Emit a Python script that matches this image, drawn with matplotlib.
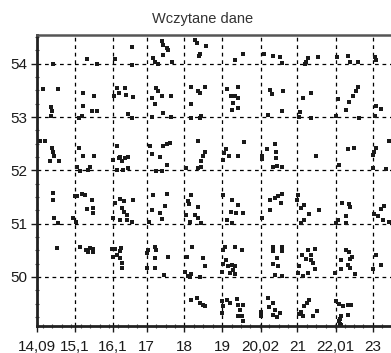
import numpy as np
import matplotlib
matplotlib.use("Agg")
from matplotlib import pyplot as plt
from matplotlib.ticker import MultipleLocator

plt.rcParams['font.family'] = ['Liberation Sans', 'DejaVu Sans']

# punkty (dlugosc, szerokosc), po pasach szerokosci
lon_54 = [15.42, 14.52, 15.67, 16.16, 16.60, 16.60, 17.40, 17.44, 17.53, 17.57, 17.44, 17.18,
          17.22, 17.66, 17.30, 18.29, 18.34, 18.58, 18.41, 18.38, 19.56, 19.34, 20.10, 20.36,
          20.53, 20.60, 21.29, 21.23, 21.20, 21.55, 22.04, 22.35, 22.39, 22.61, 23.06, 23.08]
lat_54 = [54.09, 53.99, 53.99, 54.09, 54.31, 53.98, 54.42, 54.36, 54.29, 54.26, 54.17, 54.11,
          54.04, 54.04, 53.99, 54.45, 54.39, 54.34, 54.19, 54.14, 54.18, 54.08, 54.18, 54.15,
          54.12, 54.02, 54.11, 54.04, 54.00, 54.13, 54.13, 54.14, 54.04, 54.04, 54.13, 54.08]

lon_53 = [14.24, 14.65, 15.32, 15.61, 14.45, 14.49, 14.47, 15.32, 15.54, 15.67, 15.28, 15.21,
          16.20, 16.42, 16.14, 16.27, 16.45, 16.63, 16.50, 16.60,
          17.26, 17.31, 17.40, 17.13, 17.64, 17.22, 17.13, 17.42, 17.64,
          18.18, 18.36, 18.41, 18.54, 18.17, 18.18, 18.41, 18.45,
          19.12, 19.43, 19.24, 19.43, 19.33, 19.30, 19.27, 19.43,
          20.27, 20.32, 20.62, 20.23, 20.58,
          21.36, 21.15, 21.07, 21.05, 21.36,
          22.60, 22.55, 22.46, 22.37, 22.29, 22.07, 22.02, 22.64,
          23.08, 23.21, 23.06]
lat_53 = [53.53, 53.53, 53.45, 53.39, 53.19, 53.12, 53.02, 53.20, 53.11, 53.12, 53.02, 52.98,
          53.54, 53.54, 53.39, 53.45, 53.42, 53.38, 53.06, 52.98,
          53.54, 53.48, 53.39, 53.36, 53.39, 53.25, 53.01, 53.08, 53.01,
          53.56, 53.48, 53.45, 53.56, 53.25, 52.98, 52.98, 53.02,
          53.53, 53.56, 53.40, 53.36, 53.40, 53.27, 53.14, 53.17,
          53.51, 53.44, 53.48, 53.04, 53.12,
          53.46, 53.36, 53.09, 53.00, 52.98,
          53.57, 53.48, 53.39, 53.29, 53.14, 53.34, 53.02, 52.98,
          53.20, 53.15, 53.02]

lon_52 = [14.17, 14.31, 14.49, 14.51, 14.54, 14.43, 14.68, 15.21, 15.30, 15.60, 15.14, 15.50,
          15.45, 15.23,
          16.22, 16.10, 16.27, 16.20, 16.29, 16.42, 16.34, 16.51, 16.36, 16.50,
          17.09, 17.13, 17.44, 17.53, 17.62, 17.35, 17.53, 17.26, 17.40,
          18.36, 18.55, 18.49, 18.45, 18.43, 18.36, 18.05,
          19.59, 19.10, 19.06, 19.03, 19.18, 19.41,
          20.18, 20.40, 20.05, 20.07, 20.42, 20.42, 20.36, 20.45, 20.60,
          21.49, 22.33, 22.51, 23.08, 23.04, 23.00, 23.42, 22.11, 23.00, 23.35]
lat_52 = [52.56, 52.56, 52.42, 52.34, 52.27, 52.18, 52.18, 52.42, 52.27, 52.27, 52.06, 52.07,
          52.01, 51.98,
          52.45, 52.20, 52.23, 52.00, 52.26, 52.23, 52.17, 52.26, 52.01, 52.04,
          52.45, 52.31, 52.45, 52.50, 52.51, 52.26, 52.11, 51.98, 51.98,
          52.56, 52.34, 52.27, 52.17, 52.07, 52.04, 52.04,
          52.54, 52.40, 52.32, 52.20, 52.27, 52.27,
          52.40, 52.50, 52.27, 52.21, 52.34, 52.23, 52.07, 52.09, 52.07,
          52.27, 52.40, 52.42, 52.42, 52.34, 52.29, 52.56, 52.11, 52.04, 52.02]

lon_51 = [14.52, 14.52, 14.54, 14.65, 15.10, 15.16, 15.28, 15.36, 15.54, 15.42, 15.57, 15.57,
          15.05, 15.12,
          16.30, 16.40, 16.63, 16.16, 16.34, 16.40, 16.47, 16.11, 16.29, 16.47, 16.60,
          17.18, 17.53, 17.49, 17.13, 17.35, 17.40, 17.06,
          18.18, 18.10, 18.12, 18.36, 18.05, 18.29, 18.36, 18.14, 18.43,
          19.03, 19.25, 19.43, 19.24, 19.36, 19.56, 19.12, 19.25,
          20.40, 20.49, 20.60, 20.56, 20.27, 20.27, 20.07,
          21.01, 20.98, 21.18, 21.09, 21.31, 21.56, 21.18, 21.09,
          22.18, 22.37, 22.39, 22.30, 22.07, 22.02, 22.30,
          23.30, 23.21, 23.04, 23.13, 23.26, 23.44]
lat_51 = [51.57, 51.45, 51.10, 51.01, 51.52, 51.51, 51.56, 51.54, 51.45, 51.27, 51.29, 51.20,
          51.10, 51.04,
          51.47, 51.42, 51.44, 51.39, 51.30, 51.22, 51.17, 51.10, 51.06, 51.07, 51.04,
          51.54, 51.56, 51.33, 51.26, 51.20, 51.09, 51.03,
          51.54, 51.42, 51.37, 51.31, 51.17, 51.17, 51.11, 51.04, 51.02,
          51.54, 51.44, 51.35, 51.21, 51.20, 51.20, 51.07, 51.02,
          51.48, 51.52, 51.56, 51.39, 51.45, 51.25, 51.11,
          51.54, 51.45, 51.35, 51.29, 51.19, 51.25, 51.06, 51.02,
          51.39, 51.37, 51.31, 51.15, 51.06, 51.01, 51.01,
          51.34, 51.27, 51.19, 51.14, 51.06, 51.04]

lon_50 = [14.63, 15.23, 15.39, 15.50, 15.58, 15.45, 15.57,
          16.07, 16.16, 16.31, 16.29, 16.10, 16.20, 16.29, 16.34, 16.34,
          17.04, 17.00, 17.22, 17.26, 17.22, 17.57, 17.00, 17.22, 17.46,
          18.20, 18.08, 18.49, 18.55, 18.01, 18.10, 18.18, 18.14, 18.41,
          19.08, 19.03, 19.33, 19.52, 19.10, 19.03, 19.16, 19.25, 19.34, 19.30, 19.21, 19.33, 18.99,
          20.36, 20.36, 20.60, 20.60, 20.45, 20.36, 20.49, 20.40, 20.58,
          21.27, 21.47, 21.12, 21.36, 21.23, 21.36, 21.40, 21.47, 21.05, 21.01, 21.14, 21.27,
          22.29, 22.36, 22.45, 22.38, 22.33, 22.38, 22.15, 22.15, 22.00, 22.53,
          23.08, 23.21, 23.01]
lat_50 = [50.55, 50.56, 50.51, 50.54, 50.52, 50.46, 50.46,
          50.52, 50.52, 50.54, 50.48, 50.38, 50.42, 50.35, 50.26, 50.17,
          50.51, 50.45, 50.57, 50.51, 50.35, 50.37, 50.17, 50.17, 50.03,
          50.57, 50.37, 50.35, 50.20, 50.10, 50.02, 50.06, 50.00, 50.00,
          50.56, 50.50, 50.56, 50.50, 50.31, 50.25, 50.20, 50.23, 50.20, 50.14, 50.07, 50.06, 50.10,
          50.56, 50.48, 50.56, 50.48, 50.35, 50.25, 50.20, 50.04, 50.01,
          50.51, 50.52, 50.42, 50.42, 50.34, 50.32, 50.26, 50.15, 50.20, 50.07, 50.02, 50.07,
          50.51, 50.46, 50.37, 50.34, 50.23, 50.17, 50.32, 50.15, 50.08, 50.06,
          50.42, 50.23, 50.15]

lon_49 = [18.18, 18.34, 18.41, 18.49, 18.55,
          18.99, 19.03, 18.99, 19.12, 19.21, 19.39, 19.43, 19.56, 19.47, 19.43, 19.53, 19.56,
          20.23, 20.36, 20.24, 20.40, 20.54, 20.36, 20.03, 20.03, 20.45,
          21.31, 21.24, 21.18, 21.09, 21.05, 21.14, 21.40, 21.53,
          22.02, 22.11, 22.20, 22.33, 22.42, 22.33, 22.15, 22.11, 22.13, 22.13, 22.16]
lat_49 = [49.57, 49.60, 49.52, 49.48, 49.45,
          49.54, 49.45, 49.32, 49.57, 49.52, 49.59, 49.48, 49.48, 49.38, 49.27, 49.26, 49.17,
          49.60, 49.52, 49.44, 49.38, 49.32, 49.29, 49.35, 49.26, 49.25,
          49.57, 49.51, 49.45, 49.35, 49.31, 49.26, 49.26, 49.37,
          49.54, 49.50, 49.45, 49.48, 49.48, 49.29, 49.26, 49.17, 49.22, 49.12, 49.09]

x_ticks = [14.09, 15.1, 16.1, 17, 18, 19, 20.02, 21, 22.01, 23]
x_labels = ['14,09', '15,1', '16,1', '17', '18', '19', '20,02', '21', '22,01', '23']
y_ticks = [50, 51, 52, 53, 54]

lon = lon_54 + lon_53 + lon_52 + lon_51 + lon_50 + lon_49
lat = lat_54 + lat_53 + lat_52 + lat_51 + lat_50 + lat_49

fig = plt.figure(figsize=(3.91, 3.53), dpi=100)
ax = fig.add_axes([37 / 391, 27 / 353, 360 / 391, 291 / 353])

ax.plot(lon, lat, linestyle='none', marker='s', markersize=3.4,
        color='#1a1a1a', markeredgewidth=0)

ax.set_xlim(14.09, 23.64)
ax.set_ylim(49.08, 54.54)
ax.set_xticks(x_ticks)
ax.set_xticklabels(x_labels)
ax.set_yticks(y_ticks)
ax.xaxis.set_minor_locator(MultipleLocator(0.25))
ax.yaxis.set_minor_locator(MultipleLocator(0.25))
ax.grid(True, which='major', color='black', linestyle=(0, (3, 3)), linewidth=0.9)

ax.tick_params(which='major', direction='out', length=4, width=1, labelsize=11,
               colors='#1a1a1a')
ax.tick_params(axis='x', which='major', pad=6)
ax.tick_params(axis='y', which='major', pad=3)
ax.tick_params(which='minor', direction='inout', length=3, width=0.8, colors='#444444')

for side in ['left', 'bottom']:
    ax.spines[side].set_linewidth(2)
    ax.spines[side].set_color('#222222')
ax.spines['top'].set_linewidth(1.8)
ax.spines['top'].set_color('#555555')

fig.text(0.517, 0.945, 'Wczytane dane', ha='center', va='center', fontsize=10.5, color='#333333')

fig.savefig('out.png', dpi=100)
